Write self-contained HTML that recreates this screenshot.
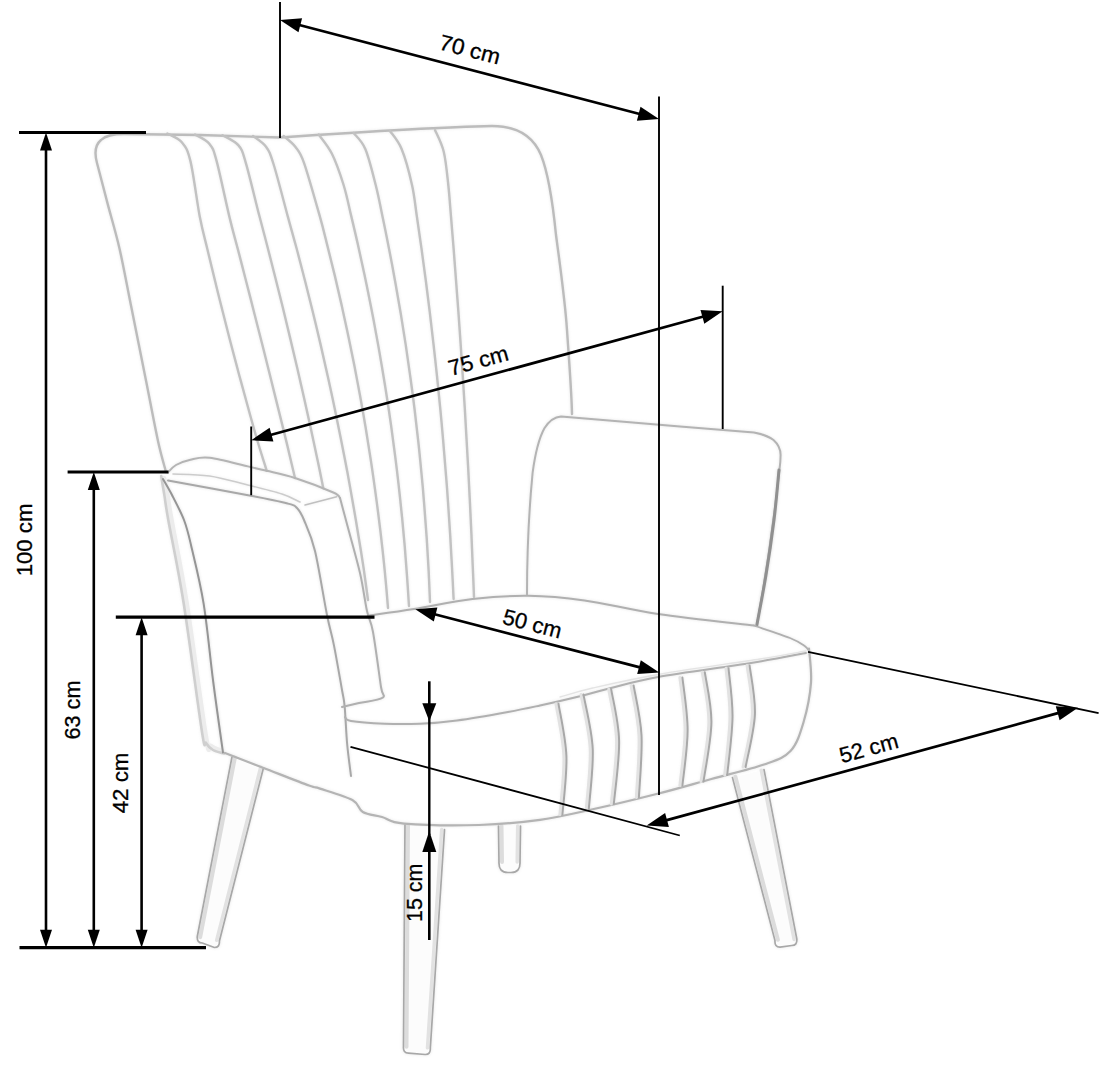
<!DOCTYPE html>
<html><head><meta charset="utf-8"><style>
html,body{margin:0;padding:0;background:#fff;overflow:hidden;}
svg{display:block;}
text{font-family:"Liberation Sans",sans-serif;fill:#000;stroke:#000;stroke-width:0.3px;}
</style></head><body>
<svg width="1100" height="1080" viewBox="0 0 1100 1080">
<defs>
<filter id="halo" x="-5%" y="-5%" width="110%" height="110%"><feGaussianBlur stdDeviation="1.8"/></filter>
<filter id="soft" x="-5%" y="-5%" width="110%" height="110%"><feGaussianBlur stdDeviation="0.7"/></filter>

<g id="chairsrc" stroke-linecap="round" stroke-linejoin="round">
<path d="M232.0,757.0 L263.4,768.0 L219.4,941.0 Q219.9,947.5 214.4,947.5 L202.3,943.0 Q196.8,943.0 197.3,936.5 Z" stroke="#ffffff" stroke-width="0.10" fill="#fcfcfc" />
<path d="M234.9,757.6 L200.2,937.1" stroke="#dcdcdc" stroke-width="4.00" fill="none" />
<path d="M260.7,767.3 L216.7,940.3" stroke="#e2e2e2" stroke-width="3.50" fill="none" />
<path d="M263.4,768.0 L219.4,941.0 Q219.9,947.5 214.4,947.5 L202.3,943.0 Q196.8,943.0 197.3,936.5 L232.0,757.0" stroke="#a8a8a8" stroke-width="1.70" fill="none" />
<path d="M405.0,825.0 L444.5,829.7 L430.3,1048.0 Q430.8,1054.5 425.3,1054.5 L408.5,1053.2 Q403.0,1053.2 403.5,1046.7 Z" stroke="#ffffff" stroke-width="0.10" fill="#fcfcfc" />
<path d="M408.0,825.0 L406.5,1046.7" stroke="#dcdcdc" stroke-width="4.00" fill="none" />
<path d="M441.7,829.5 L427.5,1047.8" stroke="#e2e2e2" stroke-width="3.50" fill="none" />
<path d="M444.5,829.7 L430.3,1048.0 Q430.8,1054.5 425.3,1054.5 L408.5,1053.2 Q403.0,1053.2 403.5,1046.7 L405.0,825.0" stroke="#a8a8a8" stroke-width="1.70" fill="none" />
<path d="M732.5,777.6 L764.0,769.7 L796.8,939.0 Q797.3,945.5 791.8,945.5 L780.0,947.1 Q774.5,947.1 775.0,940.6 Z" stroke="#ffffff" stroke-width="0.10" fill="#fcfcfc" />
<path d="M735.4,776.8 L777.9,939.8" stroke="#dcdcdc" stroke-width="4.00" fill="none" />
<path d="M761.3,770.2 L794.1,939.5" stroke="#e2e2e2" stroke-width="3.50" fill="none" />
<path d="M764.0,769.7 L796.8,939.0 Q797.3,945.5 791.8,945.5 L780.0,947.1 Q774.5,947.1 775.0,940.6 L732.5,777.6" stroke="#a8a8a8" stroke-width="1.70" fill="none" />
<path d="M498.5,826.0 L520.5,826.0 L520.0,862.0 Q520.5,872.5 511.0,872.5 L508.0,872.5 Q498.5,872.5 499.0,862.0 Z" stroke="#ffffff" stroke-width="0.10" fill="#fcfcfc" />
<path d="M501.5,826.0 L502.0,862.0" stroke="#dcdcdc" stroke-width="4.00" fill="none" />
<path d="M517.7,826.0 L517.2,862.0" stroke="#e2e2e2" stroke-width="3.50" fill="none" />
<path d="M520.5,826.0 L520.0,862.0 Q520.5,872.5 511.0,872.5 L508.0,872.5 Q498.5,872.5 499.0,862.0 L498.5,826.0" stroke="#a8a8a8" stroke-width="1.70" fill="none" />
<path d="M166.0,472.0 C164.7,466.9 161.4,456.5 158.1,441.5 C154.8,426.5 150.7,404.2 146.3,382.0 C141.9,359.8 135.9,330.2 131.5,308.0 C127.0,285.8 123.5,266.2 119.6,248.9 C115.6,231.6 111.0,216.6 107.8,204.4 C104.6,192.2 102.2,182.9 100.4,176.0 C98.6,169.1 97.6,165.2 97.0,163.0 C94,152 95,145 101,140 C106,135 113,134 124,134 L200,135 L280,137.5 C360,132 440,127 492,126 C516,126 533,136 541,155 C549,175 553,205 556,235 C560,265 565,300 567,330 C569,360 571.5,390 572,414" stroke="#bcbcbc" stroke-width="2.40" fill="none" />
<path d="M167.3,133.5 C169.8,135.0 178.1,137.8 182.0,142.5 C185.9,147.2 187.5,149.0 190.5,161.4 C193.5,173.8 197.0,202.2 199.8,216.8 C202.6,231.3 204.7,237.9 207.2,248.5 C209.7,259.1 212.3,269.7 214.9,280.3 C217.4,290.9 220.1,301.4 222.8,312.0 C225.4,322.6 228.2,333.2 230.9,343.8 C233.7,354.4 236.5,364.9 239.3,375.5 C242.2,386.1 245.1,396.7 248.0,407.3 C250.9,417.9 253.8,428.5 256.9,439.0 C260.0,449.6 265.1,465.5 266.7,470.8" stroke="#c2c2c2" stroke-width="2.40" fill="none" />
<path d="M195.0,134.5 C197.4,136.1 205.9,139.4 209.5,143.9 C213.1,148.4 213.4,149.1 216.7,161.4 C220.0,173.7 226.0,202.8 229.6,217.6 C233.1,232.3 235.3,239.3 238.1,250.1 C240.9,261.0 243.7,271.8 246.5,282.7 C249.3,293.5 252.1,304.4 254.8,315.2 C257.6,326.1 260.3,336.9 263.1,347.8 C265.8,358.6 268.5,369.5 271.2,380.3 C273.9,391.2 276.6,402.0 279.3,412.9 C282.0,423.7 284.7,434.6 287.3,445.4 C289.9,456.3 293.7,472.6 295.0,478.0" stroke="#c2c2c2" stroke-width="2.40" fill="none" />
<path d="M222.5,135.2 C225.2,136.9 234.6,140.8 238.5,145.4 C242.4,150.0 242.3,151.1 245.8,162.8 C249.3,174.5 255.6,201.5 259.2,215.3 C262.8,229.1 264.6,235.6 267.2,245.7 C269.8,255.8 272.4,265.9 274.9,276.0 C277.5,286.1 280.0,296.2 282.5,306.3 C285.0,316.4 287.4,326.5 289.8,336.6 C292.2,346.8 294.6,356.9 297.0,367.0 C299.3,377.1 301.6,387.2 303.9,397.3 C306.2,407.4 308.4,417.5 310.6,427.6 C312.8,437.8 315.0,447.9 317.1,458.0 C319.3,468.1 322.3,483.2 323.3,488.3" stroke="#c2c2c2" stroke-width="2.40" fill="none" />
<path d="M253.0,136.0 C255.2,137.8 262.6,142.1 266.0,146.8 C269.4,151.5 269.8,152.3 273.5,164.0 C277.2,175.7 284.1,202.8 287.9,216.9 C291.8,231.1 293.8,238.2 296.7,248.8 C299.5,259.5 302.3,270.1 305.0,280.8 C307.7,291.4 310.4,302.1 313.0,312.7 C315.6,323.3 318.1,334.0 320.6,344.6 C323.1,355.3 325.5,365.9 327.8,376.5 C330.2,387.2 332.5,397.8 334.7,408.5 C336.9,419.1 339.1,429.7 341.2,440.4 C343.3,451.0 345.4,461.7 347.4,472.3 C349.3,482.9 351.3,493.6 353.1,504.2 C355.0,514.9 356.8,525.5 358.5,536.2 C360.3,546.8 362.0,557.4 363.6,568.1 C365.1,578.7 367.3,594.7 368.0,600.0" stroke="#c2c2c2" stroke-width="2.40" fill="none" />
<path d="M283.6,136.0 C285.6,137.8 291.9,142.3 295.3,146.8 C298.7,151.3 300.0,151.4 304.0,162.8 C308.0,174.2 315.6,201.4 319.5,215.2 C323.4,229.0 324.8,235.4 327.3,245.4 C329.9,255.5 332.4,265.6 334.8,275.6 C337.2,285.7 339.5,295.8 341.8,305.9 C344.0,315.9 346.2,326.0 348.3,336.1 C350.4,346.1 352.5,356.2 354.5,366.3 C356.4,376.4 358.3,386.4 360.2,396.5 C362.0,406.6 363.8,416.6 365.5,426.7 C367.1,436.8 368.8,446.9 370.3,456.9 C371.9,467.0 373.3,477.1 374.7,487.1 C376.1,497.2 377.5,507.3 378.7,517.4 C380.0,527.4 381.2,537.5 382.3,547.6 C383.4,557.6 384.5,567.7 385.4,577.8 C386.4,587.9 387.6,603.0 388.0,608.0" stroke="#c2c2c2" stroke-width="2.40" fill="none" />
<path d="M318.7,134.5 C320.9,137.7 327.6,145.1 331.8,153.5 C336.0,161.9 340.4,174.7 343.6,185.0 C346.8,195.3 348.6,205.0 351.0,215.1 C353.4,225.1 355.8,235.1 358.0,245.1 C360.3,255.2 362.5,265.2 364.6,275.2 C366.7,285.2 368.7,295.3 370.7,305.3 C372.7,315.3 374.6,325.3 376.4,335.4 C378.3,345.4 380.0,355.4 381.7,365.4 C383.4,375.5 385.1,385.5 386.6,395.5 C388.2,405.5 389.7,415.5 391.1,425.6 C392.5,435.6 393.8,445.6 395.1,455.6 C396.4,465.7 397.6,475.7 398.7,485.7 C399.8,495.7 400.9,505.8 401.9,515.8 C402.9,525.8 403.8,535.8 404.7,545.9 C405.5,555.9 406.3,565.9 407.0,575.9 C407.7,586.0 408.7,601.0 409.0,606.0" stroke="#c2c2c2" stroke-width="2.40" fill="none" />
<path d="M353.6,133.0 C355.6,135.7 361.6,140.3 365.3,149.0 C369.0,157.7 372.8,173.7 375.7,185.0 C378.6,196.3 380.4,206.4 382.6,217.1 C384.9,227.8 387.0,238.5 389.1,249.2 C391.2,259.8 393.2,270.5 395.1,281.2 C397.0,291.9 398.9,302.6 400.7,313.3 C402.4,324.0 404.1,334.7 405.8,345.4 C407.4,356.1 408.9,366.8 410.4,377.5 C411.9,388.2 413.3,398.8 414.6,409.5 C415.9,420.2 417.1,430.9 418.3,441.6 C419.5,452.3 420.5,463.0 421.5,473.7 C422.6,484.4 423.5,495.1 424.3,505.8 C425.2,516.5 426.0,527.2 426.7,537.8 C427.4,548.5 428.0,559.2 428.6,569.9 C429.1,580.6 429.8,596.7 430.0,602.0" stroke="#c2c2c2" stroke-width="2.40" fill="none" />
<path d="M390.0,131.0 C391.9,134.0 397.9,140.0 401.6,149.0 C405.3,158.0 409.5,173.7 412.0,185.0 C414.6,196.3 415.3,206.2 416.9,216.8 C418.5,227.5 420.0,238.1 421.5,248.7 C422.9,259.3 424.4,269.9 425.8,280.5 C427.2,291.2 428.5,301.8 429.8,312.4 C431.1,323.0 432.3,333.6 433.5,344.2 C434.7,354.8 435.9,365.5 437.0,376.1 C438.1,386.7 439.2,397.3 440.2,407.9 C441.2,418.5 442.2,429.2 443.1,439.8 C444.0,450.4 444.9,461.0 445.7,471.6 C446.6,482.2 447.4,492.8 448.1,503.5 C448.8,514.1 449.5,524.7 450.2,535.3 C450.8,545.9 451.4,556.5 452.0,567.2 C452.6,577.8 453.3,593.7 453.6,599.0" stroke="#c2c2c2" stroke-width="2.40" fill="none" />
<path d="M435.0,130.0 C436.5,133.7 441.6,142.8 443.8,152.0 C446.0,161.2 447.1,174.2 448.3,185.0 C449.5,195.8 450.1,206.1 451.0,216.7 C451.9,227.3 452.7,237.8 453.6,248.4 C454.4,258.9 455.2,269.5 456.0,280.1 C456.8,290.6 457.6,301.2 458.4,311.8 C459.1,322.3 459.9,332.9 460.6,343.5 C461.3,354.0 462.0,364.6 462.7,375.2 C463.4,385.7 464.0,396.3 464.7,406.8 C465.3,417.4 465.9,428.0 466.5,438.5 C467.1,449.1 467.7,459.7 468.3,470.2 C468.8,480.8 469.4,491.4 469.9,501.9 C470.4,512.5 470.9,523.1 471.4,533.6 C471.8,544.2 472.3,554.7 472.7,565.3 C473.2,575.9 473.8,591.7 474.0,597.0" stroke="#c2c2c2" stroke-width="2.40" fill="none" />
<path d="M368.0,615.6 C375.7,614.5 396.6,611.8 414.0,609.0 C431.4,606.2 453.4,601.2 472.5,599.0 C491.6,596.8 509.8,595.6 528.5,595.8 C547.2,596.0 562.9,597.4 584.5,600.4 C606.1,603.4 629.8,609.8 658.0,614.0 C686.2,618.2 738.0,623.6 754.0,625.5" stroke="#b0b0b0" stroke-width="2.00" fill="none" />
<path d="M168.0,472.5 C169.3,471.2 172.3,467.1 176.0,465.0 C179.7,462.9 184.8,460.9 190.4,459.7 C196.0,458.5 200.2,456.7 209.8,457.8 C219.4,458.9 238.3,464.2 247.8,466.4 C257.3,468.6 258.8,468.9 266.7,470.8 C274.6,472.7 283.9,474.4 295.0,478.0 C306.1,481.6 325.8,489.2 333.3,492.5 C340.8,495.8 338.9,497.1 340.0,498.0" stroke="#b4b4b4" stroke-width="2.00" fill="none" />
<path d="M164.0,478.0 C164.6,480.9 166.2,488.4 167.5,495.4 C168.8,502.4 168.3,502.1 171.5,520.0 C174.7,537.9 180.8,566.6 186.6,602.8 C192.3,639.0 201.9,713.1 206.0,737.0 C210.1,760.9 208.3,743.7 211.0,746.0 C213.7,748.3 220.2,750.2 222.0,751.0" stroke="#ececec" stroke-width="4.50" fill="none" />
<path d="M161.2,476.0 C161.7,479.2 163.2,488.1 164.4,495.4 C165.6,502.7 165.1,502.1 168.3,520.0 C171.5,537.9 178.0,567.5 183.6,602.8 C189.2,638.1 198.3,708.6 202.0,732.0 C205.7,755.4 204.2,740.0 206.0,743.0 C207.8,746.0 210.0,748.2 213.0,750.0 C216.0,751.8 222.2,752.9 224.0,753.5" stroke="#cfcfcf" stroke-width="2.60" fill="none" />
<path d="M163.0,479.0 C164.5,481.7 168.5,488.2 172.0,495.0 C175.5,501.8 180.8,511.7 184.0,520.0 C187.2,528.3 187.8,531.2 191.0,545.0 C194.2,558.8 199.8,580.3 203.5,602.8 C207.2,625.3 209.8,655.0 213.0,680.0 C216.2,705.0 221.3,740.4 223.0,752.5" stroke="#959595" stroke-width="2.00" fill="none" />
<path d="M168.0,480.5 C181.8,483.1 230.9,492.0 250.8,495.8 C270.7,499.6 279.8,501.5 287.5,503.5 C295.2,505.5 294.2,505.2 297.0,508.0 C299.8,510.8 301.0,512.8 304.0,520.0 C307.0,527.2 311.2,535.2 315.0,551.0 C318.8,566.8 323.8,599.2 327.0,615.0 C330.2,630.8 331.5,633.1 334.0,645.6 C336.5,658.1 340.2,679.9 342.0,690.0 C343.8,700.1 343.7,696.9 344.6,706.0 C345.5,715.1 346.1,732.8 347.2,744.5 C348.3,756.2 350.4,770.8 351.0,776.0" stroke="#a8a8a8" stroke-width="2.00" fill="none" />
<path d="M305.0,505.0 L336.7,496.7" stroke="#c0c0c0" stroke-width="1.50" fill="none" />
<path d="M173.0,474.0 C179.1,474.3 197.3,474.2 209.5,476.0 C221.7,477.8 233.9,481.5 246.0,484.5 C258.1,487.5 273.0,491.1 282.0,494.0 C291.0,496.9 297.0,500.7 300.0,502.0" stroke="#cccccc" stroke-width="1.60" fill="none" />
<path d="M340.0,498.0 C341.1,502.2 343.4,510.5 346.7,523.0 C350.0,535.5 356.6,558.3 360.0,573.0 C363.4,587.7 364.8,601.2 367.0,611.0 C369.2,620.8 370.7,619.3 373.0,632.0 C375.3,644.7 379.4,676.0 381.0,687.0 C382.6,698.0 386.2,695.1 382.5,697.8 C378.8,700.5 365.8,701.5 359.0,703.0 C352.2,704.5 344.8,706.3 342.0,707.0" stroke="#b0b0b0" stroke-width="2.00" fill="none" />
<path d="M527,594.5 C527,560 529,510 532.6,472.8 C535,455 538,440 544.4,428.3 C549,421 554,417 561,416.5 L600,419.8 L680,426.5 L754,432.5 C762,434 768,436 773.5,440 C778,444 780.6,449 780.6,455 C780.6,460 780,466 779.4,470 C774,520 766,575 756.8,625.5" stroke="#b4b4b4" stroke-width="2.00" fill="none" />
<path d="M779.0,470.0 C778.2,478.3 776.2,502.5 774.0,520.0 C771.8,537.5 768.9,557.4 766.0,575.0 C763.1,592.6 758.3,617.1 756.8,625.5" stroke="#909090" stroke-width="3.00" fill="none" />
<path d="M345.0,717.0 C346.0,717.7 344.4,719.9 351.0,721.0 C357.6,722.1 373.3,723.2 384.8,723.7 C396.3,724.2 408.0,724.2 420.0,723.7 C432.0,723.2 442.3,722.5 457.0,720.5 C471.7,718.5 494.2,714.5 508.0,712.0 C521.8,709.5 527.5,708.2 540.0,705.5 C552.5,702.8 571.2,698.4 583.0,695.5 C594.8,692.6 598.5,691.1 611.0,688.0 C623.5,684.9 634.7,681.2 658.0,677.0 C681.3,672.8 726.3,667.0 751.0,663.0 C775.7,659.0 796.8,654.7 806.0,653.0" stroke="#b0b0b0" stroke-width="2.00" fill="none" />
<path d="M560.0,697.0 C565.5,695.5 575.9,691.8 592.7,688.0 C609.5,684.2 633.1,678.8 661.0,674.0 C688.9,669.2 735.8,662.8 760.0,659.0 C784.2,655.2 798.3,652.3 806.0,651.0" stroke="#e4e4e4" stroke-width="1.30" fill="none" />
<path d="M754.0,625.5 C760.0,627.6 781.5,634.6 790.0,638.0 C798.5,641.4 801.5,643.8 804.7,646.0 C807.9,648.2 808.3,650.2 809.0,651.0" stroke="#b0b0b0" stroke-width="1.80" fill="none" />
<path d="M809.0,648.5 C809.3,654.2 811.9,670.5 811.0,682.7 C810.1,695.0 807.0,710.6 803.6,722.0 C800.2,733.4 797.1,743.9 790.5,751.0 C783.9,758.1 777.2,759.8 764.0,764.5 C750.8,769.2 729.0,774.2 711.4,779.0 C693.8,783.8 678.4,788.5 658.6,793.5 C638.8,798.5 612.5,804.9 592.7,809.3 C572.9,813.7 559.0,817.2 540.0,819.8 C521.0,822.4 501.7,824.4 479.0,825.0 C456.3,825.6 420.2,824.9 404.0,823.6 C387.8,822.3 388.9,818.9 382.0,817.0 C375.1,815.1 367.7,814.8 362.8,812.0 C357.9,809.2 359.5,803.9 352.4,800.0 C345.3,796.1 327.2,791.0 320.0,788.6 C312.8,786.2 318.4,788.9 309.0,785.5 C299.6,782.1 277.6,773.4 263.6,768.0 C249.6,762.6 231.4,755.5 225.0,753.0" stroke="#b4b4b4" stroke-width="2.20" fill="none" />
<path d="M556.0,703.8 C557.3,712.6 563.2,738.0 563.9,756.5 C564.5,775.0 560.6,804.9 559.9,814.6" stroke="#e2e2e2" stroke-width="3.00" fill="none" />
<path d="M558.5,703.8 C559.8,712.6 565.8,738.0 566.4,756.5 C567.0,775.0 563.1,804.9 562.4,814.6" stroke="#a8a8a8" stroke-width="2.00" fill="none" />
<path d="M581.0,694.6 C582.5,703.6 589.3,729.5 590.2,748.6 C591.1,767.7 586.9,799.2 586.3,809.3" stroke="#e2e2e2" stroke-width="3.00" fill="none" />
<path d="M583.5,694.6 C585.0,703.6 591.8,729.5 592.7,748.6 C593.6,767.7 589.4,799.2 588.8,809.3" stroke="#a8a8a8" stroke-width="2.00" fill="none" />
<path d="M608.7,689.3 C610.0,697.9 616.2,721.6 616.6,740.7 C617.0,759.8 612.2,793.5 611.3,804.0" stroke="#e2e2e2" stroke-width="3.00" fill="none" />
<path d="M611.2,689.3 C612.5,697.9 618.7,721.6 619.1,740.7 C619.5,759.8 614.7,793.5 613.8,804.0" stroke="#a8a8a8" stroke-width="2.00" fill="none" />
<path d="M631.1,685.4 C632.4,693.8 638.1,716.8 639.0,735.5 C639.9,754.2 636.8,787.1 636.4,797.4" stroke="#e2e2e2" stroke-width="3.00" fill="none" />
<path d="M633.6,685.4 C634.9,693.8 640.6,716.8 641.5,735.5 C642.4,754.2 639.3,787.1 638.9,797.4" stroke="#a8a8a8" stroke-width="2.00" fill="none" />
<path d="M679.9,677.5 C680.8,686.3 685.1,712.2 685.1,730.2 C685.1,748.2 680.8,776.3 679.9,785.5" stroke="#e2e2e2" stroke-width="3.00" fill="none" />
<path d="M682.4,677.5 C683.3,686.3 687.6,712.2 687.6,730.2 C687.6,748.2 683.3,776.3 682.4,785.5" stroke="#a8a8a8" stroke-width="2.00" fill="none" />
<path d="M702.3,672.2 C703.4,680.6 709.1,704.1 708.9,722.3 C708.7,740.5 702.3,771.7 701.0,781.6" stroke="#e2e2e2" stroke-width="3.00" fill="none" />
<path d="M704.8,672.2 C705.9,680.6 711.6,704.1 711.4,722.3 C711.2,740.5 704.8,771.7 703.5,781.6" stroke="#a8a8a8" stroke-width="2.00" fill="none" />
<path d="M726.0,668.2 C726.7,676.3 730.2,699.2 730.0,717.0 C729.8,734.8 725.6,765.3 724.7,775.0" stroke="#e2e2e2" stroke-width="3.00" fill="none" />
<path d="M728.5,668.2 C729.2,676.3 732.7,699.2 732.5,717.0 C732.3,734.8 728.1,765.3 727.2,775.0" stroke="#a8a8a8" stroke-width="2.00" fill="none" />
<path d="M747.1,665.6 C748.0,673.7 753.1,697.5 752.4,714.4 C751.7,731.3 744.6,758.2 743.1,767.0" stroke="#e2e2e2" stroke-width="3.00" fill="none" />
<path d="M749.6,665.6 C750.5,673.7 755.6,697.5 754.9,714.4 C754.2,731.3 747.1,758.2 745.6,767.0" stroke="#a8a8a8" stroke-width="2.00" fill="none" />
</g>
</defs>
<rect width="1100" height="1080" fill="#fff"/>
<g opacity="0.35" filter="url(#halo)"><use href="#chairsrc"/></g>
<g filter="url(#soft)"><use href="#chairsrc"/></g>
<g>
<line x1="280.0" y1="2.0" x2="280.0" y2="138.0" stroke="#000" stroke-width="1.90"/>
<line x1="659.0" y1="96.4" x2="659.0" y2="795.0" stroke="#000" stroke-width="1.90"/>
<line x1="297.4" y1="24.5" x2="641.6" y2="114.5" stroke="#000" stroke-width="2.70"/>
<path d="M280.0,20.0 L302.1,18.3 L298.5,32.3 Z" fill="#000"/>
<path d="M659.0,119.0 L636.9,120.7 L640.5,106.7 Z" fill="#000"/>
<line x1="19.0" y1="132.5" x2="146.0" y2="132.5" stroke="#000" stroke-width="3.20"/>
<line x1="19.5" y1="947.7" x2="206.0" y2="947.7" stroke="#000" stroke-width="3.20"/>
<line x1="46.0" y1="147.5" x2="46.0" y2="932.7" stroke="#000" stroke-width="2.60"/>
<path d="M46.0,132.5 L52.0,150.5 L40.0,150.5 Z" fill="#000"/>
<path d="M46.0,947.7 L40.0,929.7 L52.0,929.7 Z" fill="#000"/>
<line x1="67.6" y1="472.0" x2="168.5" y2="472.0" stroke="#000" stroke-width="3.20"/>
<line x1="93.8" y1="487.0" x2="93.8" y2="932.7" stroke="#000" stroke-width="2.60"/>
<path d="M93.8,472.0 L99.8,490.0 L87.8,490.0 Z" fill="#000"/>
<path d="M93.8,947.7 L87.8,929.7 L99.8,929.7 Z" fill="#000"/>
<line x1="115.8" y1="617.2" x2="374.5" y2="617.2" stroke="#000" stroke-width="3.20"/>
<line x1="141.6" y1="632.2" x2="141.6" y2="932.7" stroke="#000" stroke-width="2.60"/>
<path d="M141.6,617.2 L147.6,635.2 L135.6,635.2 Z" fill="#000"/>
<path d="M141.6,947.7 L135.6,929.7 L147.6,929.7 Z" fill="#000"/>
<line x1="429.3" y1="681.3" x2="429.3" y2="706.0" stroke="#000" stroke-width="2.60"/>
<path d="M429.3,721.2 L422.3,703.2 L436.3,703.2 Z" fill="#000"/>
<line x1="429.3" y1="715.0" x2="429.3" y2="835.0" stroke="#000" stroke-width="2.40"/>
<path d="M429.3,831.0 L436.3,852.0 L422.3,852.0 Z" fill="#000"/>
<line x1="429.3" y1="845.0" x2="429.3" y2="940.0" stroke="#000" stroke-width="2.60"/>
<line x1="251.2" y1="426.5" x2="251.2" y2="495.2" stroke="#000" stroke-width="1.90"/>
<line x1="722.7" y1="285.7" x2="722.7" y2="429.0" stroke="#000" stroke-width="1.90"/>
<line x1="268.6" y1="435.5" x2="705.3" y2="316.0" stroke="#000" stroke-width="2.70"/>
<path d="M251.2,440.2 L269.6,427.7 L273.4,441.6 Z" fill="#000"/>
<path d="M722.7,311.3 L704.3,323.8 L700.5,309.9 Z" fill="#000"/>
<line x1="432.7" y1="613.8" x2="641.9" y2="667.9" stroke="#000" stroke-width="2.70"/>
<path d="M415.3,609.3 L437.4,607.6 L433.8,621.5 Z" fill="#000"/>
<path d="M659.3,672.4 L637.2,674.1 L640.8,660.2 Z" fill="#000"/>
<line x1="350.5" y1="746.8" x2="679.8" y2="835.5" stroke="#000" stroke-width="1.80"/>
<line x1="808.0" y1="651.8" x2="1098.6" y2="713.2" stroke="#000" stroke-width="1.80"/>
<line x1="664.1" y1="820.9" x2="1060.6" y2="712.4" stroke="#000" stroke-width="2.70"/>
<path d="M646.7,825.6 L665.1,813.1 L668.9,827.0 Z" fill="#000"/>
<path d="M1078.0,707.7 L1059.6,720.2 L1055.8,706.3 Z" fill="#000"/>
</g>
<g>
<text transform="translate(468.0,56.8) rotate(14.60)" text-anchor="middle" font-size="22" textLength="62.0" lengthAdjust="spacingAndGlyphs">70 cm</text>
<text transform="translate(480.3,367.8) rotate(-15.30)" text-anchor="middle" font-size="22" textLength="61.3" lengthAdjust="spacingAndGlyphs">75 cm</text>
<text transform="translate(530.5,631.0) rotate(14.50)" text-anchor="middle" font-size="22" textLength="60.0" lengthAdjust="spacingAndGlyphs">50 cm</text>
<text transform="translate(870.7,755.3) rotate(-15.30)" text-anchor="middle" font-size="22" textLength="60.1" lengthAdjust="spacingAndGlyphs">52 cm</text>
<text transform="translate(32.2,540.0) rotate(-90.00)" text-anchor="middle" font-size="22" textLength="72.7" lengthAdjust="spacingAndGlyphs">100 cm</text>
<text transform="translate(80.2,710.0) rotate(-90.00)" text-anchor="middle" font-size="22" textLength="59.0" lengthAdjust="spacingAndGlyphs">63 cm</text>
<text transform="translate(128.2,783.0) rotate(-90.00)" text-anchor="middle" font-size="22" textLength="60.6" lengthAdjust="spacingAndGlyphs">42 cm</text>
<text transform="translate(422.3,892.8) rotate(-90.00)" text-anchor="middle" font-size="22" textLength="58.4" lengthAdjust="spacingAndGlyphs">15 cm</text>
</g>
</svg>
</body></html>
